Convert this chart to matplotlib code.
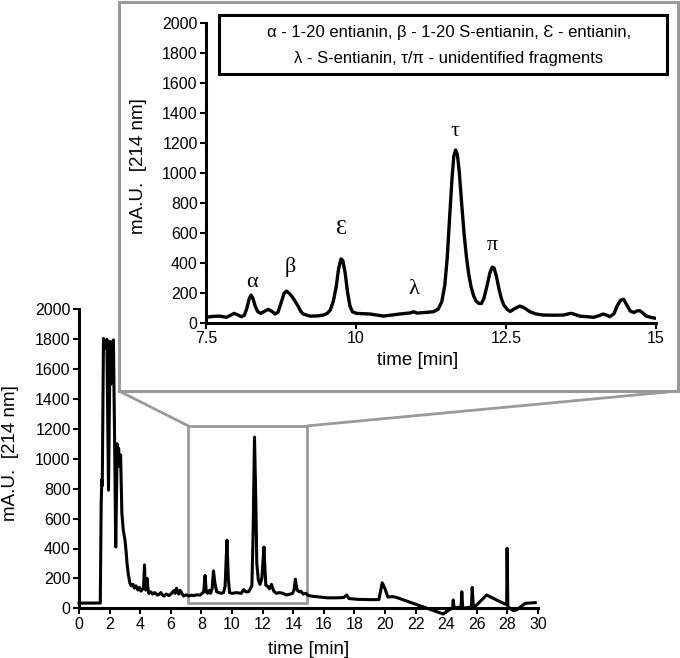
import numpy as np
import matplotlib.pyplot as plt
from matplotlib.patches import Rectangle, ConnectionPatch

plt.rcParams['font.family'] = ['Liberation Sans', 'DejaVu Sans']

# full run, 0-30 min
main_time = [0, 1.39, 1.45, 1.49, 1.52, 1.6, 1.66, 1.71, 1.77, 1.82, 1.93, 2.03, 2.09, 2.14,
             2.25, 2.33, 2.4, 2.46, 2.5, 2.55, 2.59, 2.65, 2.72, 2.8, 2.89, 3.0, 3.08, 3.14,
             3.22, 3.32, 3.42, 3.53, 3.62, 3.72, 3.85, 3.95, 4.05, 4.17, 4.22, 4.28, 4.33,
             4.36, 4.41, 4.45, 4.5, 4.56, 4.7, 4.81, 4.95, 5.13, 5.25, 5.35, 5.45, 5.56, 5.7,
             5.88, 6.05, 6.2, 6.28, 6.37, 6.45, 6.52, 6.6, 6.67, 6.75, 6.84, 7.0, 7.17, 7.35,
             7.49, 7.7, 7.9, 8.05, 8.15, 8.24, 8.32, 8.4, 8.53, 8.6, 8.7, 8.79, 8.88, 9.0,
             9.15, 9.26, 9.45, 9.55, 9.67, 9.76, 9.84, 10.0, 10.3, 10.6, 10.76, 10.9, 11.1,
             11.3, 11.38, 11.47, 11.56, 11.62, 11.72, 11.83, 11.95, 12.09, 12.16, 12.21, 12.35,
             12.45, 12.58, 12.73, 12.9, 13.1, 13.33, 13.54, 13.8, 13.95, 14.05, 14.14, 14.22,
             14.27, 14.4, 14.5, 14.65, 14.83, 15.0, 15.3, 15.8, 16.2, 16.8, 17.3, 17.5, 17.65,
             18.2, 19.0, 19.6, 19.82, 20.0, 20.19, 20.5, 20.74, 23.8, 24.24, 24.42, 24.46,
             24.52, 24.78, 24.97, 25.02, 25.08, 25.55, 25.65, 25.7, 25.78, 26.64, 27.74,
             27.95, 27.98, 28.03, 28.39, 28.61, 29.16, 29.82]
main_mau = [35, 35, 700, 860, 820, 1805, 1760, 1785, 1740, 1800, 790, 1785, 1500, 1760,
            1795, 1100, 410, 800, 1100, 1040, 1070, 950, 1025, 640, 525, 460, 380, 300,
            230, 170, 150, 160, 135, 150, 122, 140, 115, 130, 140, 290, 150,
            122, 150, 200, 140, 100, 110, 95, 105, 88, 95, 105, 90, 82, 95,
            85, 100, 118, 100, 134, 110, 95, 120, 112, 95, 82, 90, 82, 88,
            85, 90, 88, 100, 110, 220, 110, 100, 120, 100, 130, 250, 170, 110,
            105, 100, 105, 150, 455, 200, 105, 100, 105, 100, 125, 110, 112,
            150, 500, 1145, 700, 300, 190, 160, 200, 410, 250, 155, 145,
            130, 160, 115, 100, 105, 100, 89, 95, 100, 120, 195, 140,
            120, 110, 115, 95, 100, 85, 80, 75, 70, 70, 72, 89, 65,
            60, 58, 58, 171, 130, 75, 78, 73, -38, -7, 0, 56,
            0, 7, 5, 111, 0, 7, 5, 140, 0, 89, 33,
            25, 401, 11, -16, -10, 33, 38]

# zoomed window, 7.5-15 min
inset_time = [7.5, 7.62, 7.73, 7.84, 7.92, 7.97, 8.03, 8.09, 8.14, 8.18, 8.22, 8.25, 8.28,
              8.32, 8.36, 8.41, 8.47, 8.54, 8.6, 8.65, 8.7, 8.75, 8.8, 8.84, 8.89, 8.94,
              8.99, 9.04, 9.08, 9.12, 9.23, 9.35, 9.46, 9.52, 9.57, 9.62, 9.67, 9.71, 9.75,
              9.78, 9.82, 9.86, 9.9, 9.94, 10.01, 10.23, 10.46, 10.73, 10.9, 10.96, 11.02,
              11.29, 11.37, 11.43, 11.48, 11.52, 11.56, 11.6, 11.63, 11.66, 11.69, 11.72,
              11.76, 11.8, 11.84, 11.88, 11.92, 11.96, 12.0, 12.05, 12.09, 12.13, 12.18,
              12.23, 12.27, 12.3, 12.34, 12.38, 12.42, 12.46, 12.52, 12.57, 12.65, 12.73,
              12.8, 12.9, 13.0, 13.12, 13.3, 13.46, 13.55, 13.59, 13.65, 13.73, 13.96, 14.06,
              14.12, 14.18, 14.23, 14.3, 14.35, 14.41, 14.46, 14.51, 14.57, 14.63, 14.68,
              14.73, 14.78, 14.84, 14.92, 15.0]
inset_mau = [36, 42, 44, 36, 52, 62, 52, 40, 50, 95, 160, 184, 165,
             110, 75, 62, 75, 89, 75, 58, 70, 130, 195, 211, 195, 170,
             140, 107, 75, 58, 44, 45, 51, 62, 84, 140, 240, 360, 425,
             415, 330, 200, 110, 73, 62, 58, 44, 58, 65, 73, 64,
             73, 90, 140, 250, 430, 700, 960, 1110, 1151, 1120, 1010,
             800, 600, 440, 320, 235, 180, 145, 128, 128, 160, 240,
             330, 370, 365, 310, 230, 165, 120, 88, 75, 95, 111,
             100, 73, 58, 51, 50, 51, 60, 62, 55, 44, 36, 48,
             58, 50, 40, 60, 110, 150, 156, 120, 78, 68, 78,
             80, 65, 44, 35, 29]

peak_names = ['α', 'β', 'Ɛ', 'λ', 'τ', 'π']
peak_time = [8.26, 8.9, 9.76, 10.97, 11.65, 12.28]
peak_mau = [265, 372, 618, 218, 1273, 518]

legend_lines = ['α - 1-20 entianin, β - 1-20 S-entianin, Ɛ - entianin,',
                'λ - S-entianin, τ/π - unidentified fragments']

main_xticks = list(range(0, 31, 2))
yticks = list(range(0, 2001, 200))
inset_xticks = [7.5, 10, 12.5, 15]
inset_xticklabels = ['7.5', '10', '12.5', '15']
ylabel = 'mA.U.  [214 nm]'
xlabel = 'time [min]'

W, H = 680, 658
fig = plt.figure(figsize=(W / 100, H / 100), dpi=100)


def px_rect(l, t, r, b):
    return [l / W, 1 - b / H, (r - l) / W, (b - t) / H]


def style_axes(a, fs=11.5):
    for s in ['top', 'right']:
        a.spines[s].set_visible(False)
    for s in ['left', 'bottom']:
        a.spines[s].set_linewidth(2.2)
    a.tick_params(direction='out', length=4, width=1.5, labelsize=fs, pad=2)
    a.set_facecolor('none')


# main chromatogram
ax = fig.add_axes(px_rect(79, 309.3, 538, 608.3), zorder=0)
ax.plot(main_time, main_mau, color='black', lw=2.2, clip_on=False, solid_joinstyle='round')
ax.set_xlim(0, 30)
ax.set_ylim(0, 2000)
ax.set_xticks(main_xticks)
ax.set_yticks(yticks)
style_axes(ax)
ax.set_ylabel(ylabel, fontsize=13.5)
ax.yaxis.set_label_coords(-0.131, 0.519)
ax.set_xlabel(xlabel, fontsize=13.5)
ax.xaxis.set_label_coords(0.501, -0.108)

gray = '#9a9a9a'
zoom_x0, zoom_x1, zoom_y0, zoom_y1 = 7.15, 14.9, 35, 1220
ax.add_patch(Rectangle((zoom_x0, zoom_y0), zoom_x1 - zoom_x0, zoom_y1 - zoom_y0,
                       fill=False, ec=gray, lw=2, clip_on=False))

# frame around the inset
frame = Rectangle((119 / W, 1 - 391 / H), (678 - 119) / W, (391 - 2) / H,
                  transform=fig.transFigure, fc='white', ec=gray, lw=2.2, zorder=1)
fig.add_artist(frame)
for fx, dx in [(119, zoom_x0), (678, zoom_x1)]:
    con = ConnectionPatch(xyA=(fx / W, 1 - 391 / H), coordsA=fig.transFigure,
                          xyB=(dx, zoom_y1), coordsB=ax.transData,
                          color=gray, lw=2, zorder=1)
    fig.add_artist(con)

# inset
axin = fig.add_axes(px_rect(206, 22.7, 656, 322.7), zorder=2)
axin.plot(inset_time, inset_mau, color='black', lw=2.4, solid_joinstyle='round')
axin.set_xlim(7.5, 15)
axin.set_ylim(0, 2000)
axin.set_xticks(inset_xticks)
axin.set_xticklabels(inset_xticklabels)
axin.set_yticks(yticks)
style_axes(axin)
axin.set_ylabel(ylabel, fontsize=13.5)
axin.yaxis.set_label_coords(-0.131, 0.522)
axin.set_xlabel(xlabel, fontsize=13.5)
axin.xaxis.set_label_coords(0.47, -0.098)

for name, t, v in zip(peak_names, peak_time, peak_mau):
    axin.text(t, v, name, ha='center', va='center', fontsize=16,
              family=['Liberation Serif', 'DejaVu Serif'])

box = Rectangle((219 / W, 1 - 74 / H), (667 - 219) / W, (74 - 15) / H,
                transform=fig.transFigure, fc='white', ec='black', lw=2.2, zorder=3)
fig.add_artist(box)
for line, y in zip(legend_lines, [32, 59]):
    fig.text(449 / W, 1 - y / H, line, ha='center', va='center', fontsize=12,
             family=['Liberation Sans', 'DejaVu Sans'], zorder=4)

fig.savefig('out.png', dpi=100)
